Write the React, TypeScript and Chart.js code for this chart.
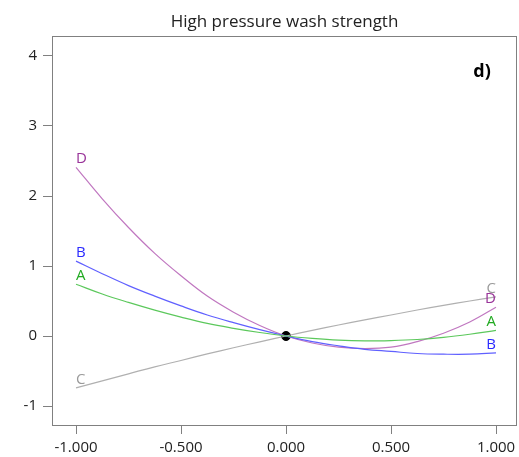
import React, { useEffect, useRef } from "react";
import { Chart, registerables } from "chart.js";

Chart.register(...registerables);

const chartTitle = "High pressure wash strength";
const panelTag = "d)";
const xValues = [-1, -0.875, -0.75, -0.625, -0.5, -0.375, -0.25, -0.125, 0, 0.125, 0.25, 0.375, 0.5, 0.625, 0.75, 0.875, 1];
const seriesA = [0.74, 0.6, 0.48, 0.37, 0.27, 0.18, 0.11, 0.05, 0, -0.035, -0.06, -0.07, -0.065, -0.05, -0.02, 0.025, 0.08];
const seriesB = [1.07, 0.89, 0.72, 0.57, 0.43, 0.3, 0.19, 0.09, 0, -0.08, -0.14, -0.19, -0.22, -0.25, -0.26, -0.26, -0.24];
const seriesC = [-0.74, -0.64, -0.54, -0.44, -0.35, -0.256, -0.168, -0.083, 0, 0.08, 0.157, 0.231, 0.3, 0.371, 0.437, 0.5, 0.56];
const seriesD = [2.41, 1.96, 1.55, 1.18, 0.86, 0.57, 0.34, 0.15, 0, -0.1, -0.16, -0.18, -0.16, -0.08, 0.04, 0.2, 0.41];
const xTicks = [-1, -0.5, 0, 0.5, 1];
const yTicks = [-1, 0, 1, 2, 3, 4];
const centerPoint = [{ x: 0, y: 0 }];

const seriesList = [
  { name: "A", values: seriesA, line: "#5cc85c", text: "#22aa22" },
  { name: "B", values: seriesB, line: "#6060ff", text: "#2a2aff" },
  { name: "C", values: seriesC, line: "#b0b0b0", text: "#9a9a9a" },
  { name: "D", values: seriesD, line: "#c077c0", text: "#993399" },
];

const FONT = "'Open Sans', 'Noto Sans', sans-serif";

const decorPlugin = {
  id: "decor",
  afterDatasetsDraw(chart: any) {
    const { ctx, chartArea, scales } = chart;
    const xs = scales.x;
    const ys = scales.y;
    ctx.save();
    ctx.font = `15px ${FONT}`;
    ctx.textBaseline = "bottom";
    seriesList.forEach((s) => {
      const n = s.values.length;
      ctx.fillStyle = s.text;
      ctx.textAlign = "left";
      ctx.fillText(s.name, xs.getPixelForValue(xValues[0]), ys.getPixelForValue(s.values[0]) - 1);
      ctx.textAlign = "right";
      ctx.fillText(s.name, xs.getPixelForValue(xValues[n - 1]), ys.getPixelForValue(s.values[n - 1]) - 1);
    });
    ctx.strokeStyle = "#808080";
    ctx.lineWidth = 1;
    ctx.strokeRect(
      Math.round(chartArea.left) + 0.5,
      Math.round(chartArea.top) + 0.5,
      Math.round(chartArea.right - chartArea.left) - 1,
      Math.round(chartArea.bottom - chartArea.top)
    );
    ctx.fillStyle = "#222222";
    ctx.font = `17px ${FONT}`;
    ctx.textAlign = "center";
    ctx.textBaseline = "middle";
    ctx.fillText(chartTitle, (chartArea.left + chartArea.right) / 2, 22);
    ctx.fillStyle = "#000000";
    ctx.font = `bold 18px ${FONT}`;
    ctx.textAlign = "center";
    ctx.fillText(panelTag, 482, 72);
    ctx.restore();
  },
};

export default function App() {
  const ref = useRef<HTMLCanvasElement | null>(null);
  useEffect(() => {
    if (!ref.current) return;
    const datasets: any[] = seriesList.map((s) => ({
      label: s.name,
      data: xValues.map((x, i) => ({ x, y: s.values[i] })),
      showLine: true,
      borderColor: s.line,
      borderWidth: 1.2,
      pointRadius: 0,
      tension: 0.4,
      fill: false,
    }));
    datasets.push({
      label: "center",
      data: centerPoint,
      showLine: false,
      pointRadius: 4.5,
      backgroundColor: "#000000",
      borderColor: "#000000",
    });
    const chart = new Chart(ref.current, {
      type: "scatter",
      data: { datasets },
      options: {
        animation: false,
        responsive: false,
        maintainAspectRatio: false,
        layout: { autoPadding: false, padding: { top: 36, right: 2, left: 0, bottom: 0 } },
        plugins: { legend: { display: false }, title: { display: false }, tooltip: { enabled: false } },
        scales: {
          x: {
            type: "linear",
            min: -1.1143,
            max: 1.1,
            afterBuildTicks: (scale: any) => {
              scale.ticks = xTicks.map((v) => ({ value: v }));
            },
            afterFit: (scale: any) => {
              scale.height = 32;
              scale.paddingLeft = 0;
              scale.paddingRight = 0;
            },
            ticks: {
              padding: 5,
              color: "#222222",
              font: { family: FONT, size: 15 },
              callback: (v: any) => Number(v).toFixed(3),
              autoSkip: false,
              maxRotation: 0,
            },
            grid: { drawOnChartArea: false, drawTicks: true, tickLength: 9, color: "#808080" },
            border: { display: false },
          },
          y: {
            type: "linear",
            min: -1.2714,
            max: 4.2857,
            afterBuildTicks: (scale: any) => {
              scale.ticks = yTicks.map((v) => ({ value: v }));
            },
            afterFit: (scale: any) => {
              scale.width = 52;
              scale.paddingTop = 0;
              scale.paddingBottom = 0;
            },
            ticks: {
              padding: 6,
              color: "#222222",
              font: { family: FONT, size: 15 },
              callback: (v: any) => String(v),
              autoSkip: false,
            },
            grid: { drawOnChartArea: false, drawTicks: true, tickLength: 9, color: "#808080" },
            border: { display: false },
          },
        },
      },
      plugins: [decorPlugin],
    });
    return () => chart.destroy();
  }, []);
  return (
    <div style={{ position: "fixed", left: 0, top: 0, width: 519, height: 457, background: "#ffffff" }}>
      <canvas ref={ref} width={519} height={457} style={{ display: "block", width: 519, height: 457 }} />
    </div>
  );
}
